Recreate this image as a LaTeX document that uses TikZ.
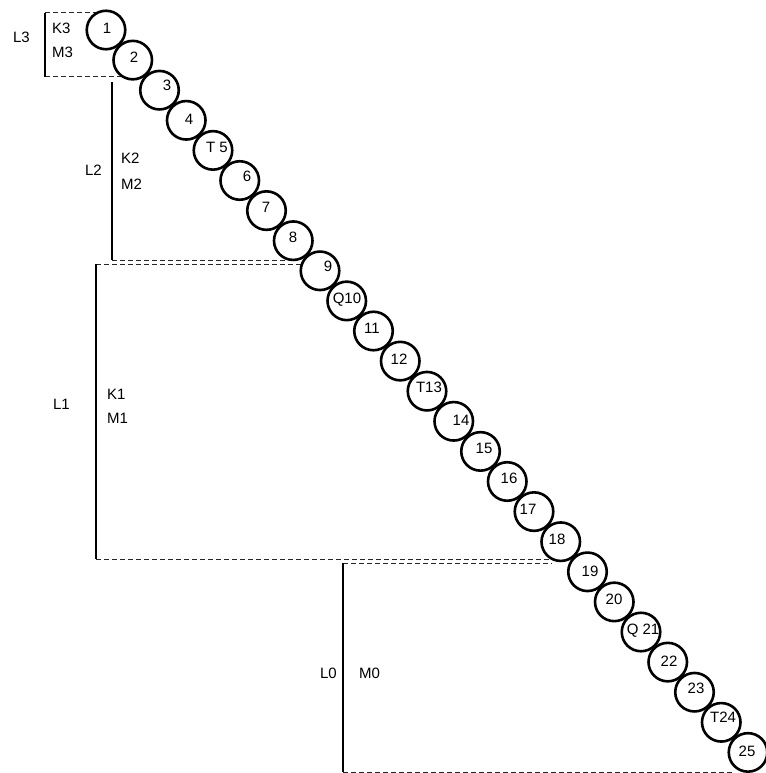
\documentclass[tikz,border=0pt]{standalone}
\usepackage{fontspec}
\setmainfont{Liberation Sans}
\begin{document}
\begin{tikzpicture}[x=1pt,y=-1pt,
  ball/.style={circle,draw=black,fill=white,line width=2.6pt,minimum size=38.5pt,inner sep=0pt},
  num/.style={inner sep=0pt,text height=10.7pt,text depth=0pt,font=\fontsize{15}{17}\selectfont},
  lab/.style={inner sep=0pt,text height=10.7pt,text depth=0pt,font=\fontsize{15}{17}\selectfont},
  bar/.style={line width=2.8pt,black},
  guide/.style={line width=1pt,black!85,dash pattern=on 5pt off 3pt}]
\useasboundingbox (0,0) rectangle (765,773);
% level coordinates
\coordinate (l3t) at (45,13);  \coordinate (l3b) at (45,77);
\coordinate (l3te) at (98,13); \coordinate (l3be) at (126,77);
\coordinate (l2t) at (112,82); \coordinate (l2b) at (112,260);
\coordinate (l2be) at (288,260);
\coordinate (l1t) at (96,264); \coordinate (l1b) at (96,559);
\coordinate (l1te) at (302,264); \coordinate (l1be) at (552,559);
\coordinate (l0t) at (343,563); \coordinate (l0b) at (343,772);
\coordinate (l0te) at (552,563); \coordinate (l0be) at (732,772);
% guides
\draw[guide] (l3t) -- (l3te);
\draw[guide] (l3b) -- (l3be);
\draw[guide] (l2b) -- (l2be);
\draw[guide] (l1t) -- (l1te);
\draw[guide] (l1b) -- (l1be);
\draw[guide] (l0t) -- (l0te);
\draw[guide] (l0b) -- (l0be);
% bars
\draw[bar] (l3t) -- (l3b);
\draw[bar] (l2t) -- (l2b);
\draw[bar] (l1t) -- (l1b);
\draw[bar] (l0t) -- (l0b);
% circles
\foreach \i in {1,...,25}{
  \node[ball] (c\i) at ({106+26.75*(\i-1)},{30+30.1*(\i-1)}) {};
}
% circle texts
\foreach \i/\t/\x/\y in {1/1/107/28,2/2/134/57,3/3/167/85,4/4/189/119,5/T 5/217/147,
  6/6/247/176,7/7/266/207,8/8/293/237,9/9/328/266,10/Q10/347/298,11/11/372/328,
  12/12/399/359,13/T13/429/387,14/14/461/420,15/15/484/448,16/16/509/478,
  17/17/528/509,18/18/557/539,19/19/590/571,20/20/614/599,21/Q 21/643/629,
  22/22/669/661,23/23/696/688,24/T24/723/717,25/25/747/751}{
  \node[num] (t\i) at (\x,\y) {\t};
}
% level labels
\node[lab,anchor=east] (L3) at (30,37) {L3};
\node[lab,anchor=west] (K3) at (52,28) {K3};
\node[lab,anchor=west] (M3) at (52,52) {M3};
\node[lab,anchor=east] (L2) at (102,170) {L2};
\node[lab,anchor=west] (K2) at (121,158) {K2};
\node[lab,anchor=west] (M2) at (121,184) {M2};
\node[lab,anchor=east] (L1) at (70,404) {L1};
\node[lab,anchor=west] (K1) at (107,394) {K1};
\node[lab,anchor=west] (M1) at (107,418) {M1};
\node[lab,anchor=east] (L0) at (337,673) {L0};
\node[lab,anchor=west] (M0) at (359,673) {M0};
\end{tikzpicture}
\end{document}
